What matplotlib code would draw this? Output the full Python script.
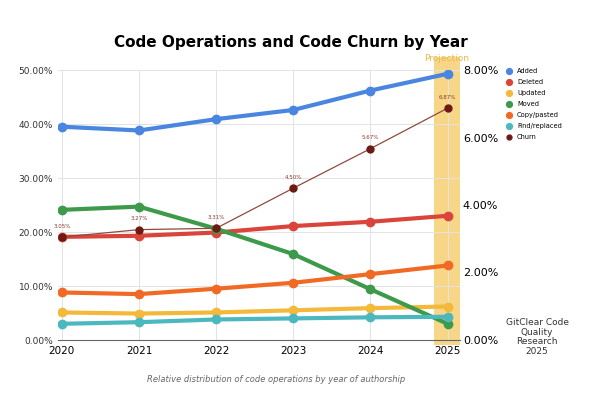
import matplotlib
matplotlib.use("Agg")
from matplotlib import pyplot as plt
from matplotlib.ticker import FuncFormatter

years = [2020, 2021, 2022, 2023, 2024, 2025]

added = [39.5, 38.8, 40.9, 42.6, 46.2, 49.3]
deleted = [19.1, 19.3, 19.9, 21.1, 21.9, 23.0]
updated = [5.1, 4.9, 5.1, 5.5, 5.9, 6.2]
moved = [24.1, 24.7, 20.6, 15.9, 9.4, 3.0]
copy_pasted = [8.8, 8.5, 9.5, 10.6, 12.2, 13.8]
find_replaced = [3.0, 3.3, 3.8, 4.0, 4.2, 4.3]
churn = [3.05, 3.27, 3.31, 4.50, 5.67, 6.87]
churn_labels = ["3.05%", "3.27%", "3.31%", "4.50%", "5.67%", "6.87%"]

series = [
    ("Added", added, "#4a86e0"),
    ("Deleted", deleted, "#d9453a"),
    ("Updated", updated, "#f4b93a"),
    ("Moved", moved, "#3c9a4a"),
    ("Copy/pasted", copy_pasted, "#f06a25"),
    ("Find/replaced", find_replaced, "#4bb8c0"),
]
churn_color = "#6e1a14"
churn_line = "#8f4a3e"
band_color = "#f6cf72"

fig = plt.figure(figsize=(6, 3.94), dpi=100)
ax = fig.add_axes([58 / 600, 1 - 340 / 394, 402 / 600, 270 / 394])
ax2 = ax.twinx()

# projection band
ax.axvspan(2024.82, 2025.16, ymin=-0.02, ymax=1.05, color=band_color,
           alpha=0.85, lw=0, clip_on=False, zorder=0)
ax.text(2024.99, 51.3, "Projection", color="#e8b94a", fontsize=6.5,
        ha="center", va="bottom")

handles = []
for name, vals, col in series:
    h, = ax.plot(years, vals, color=col, lw=3, marker="o", ms=6,
                 label=name, zorder=3, solid_capstyle="round")
    handles.append(h)

hc, = ax2.plot(years, churn, color=churn_line, lw=0.9, marker="o", ms=5,
               mfc=churn_color, mec=churn_color, label="Churn", zorder=4)
handles.append(hc)
for x, v, lab in zip(years, churn, churn_labels):
    ax2.annotate(lab, (x, v), xytext=(0, 6), textcoords="offset points",
                 ha="center", va="bottom", fontsize=4, color="#8a3a30")

ax.set_xlim(2019.95, 2025.16)
ax.set_ylim(0, 50)
ax2.set_ylim(0, 8)
ax.set_yticks([0, 10, 20, 30, 40, 50])
ax2.set_yticks([0, 2, 4, 6, 8])
ax.yaxis.set_major_formatter(FuncFormatter(lambda v, p: f"{v:.2f}%"))
ax2.yaxis.set_major_formatter(FuncFormatter(lambda v, p: f"{v:.2f}%"))
ax.set_xticks(years)
ax.tick_params(axis="x", length=0, labelsize=7.5, pad=4)
ax.tick_params(axis="y", length=0, labelsize=6.5, colors="#333333")
ax2.tick_params(axis="y", length=0, labelsize=8, pad=2)
ax.grid(True, color="#e3e3e3", lw=0.7)
ax.set_axisbelow(True)
for a in (ax, ax2):
    for s in ("top", "right", "left"):
        a.spines[s].set_visible(False)
ax2.spines["bottom"].set_visible(False)
ax.spines["bottom"].set_color("#666666")
ax.spines["bottom"].set_linewidth(0.8)

fig.text(0.485, 1 - 42 / 394, "Code Operations and Code Churn by Year",
         ha="center", va="center", fontsize=11, fontweight="bold")
fig.text(0.46, 1 - 379 / 394,
         "Relative distribution of code operations by year of authorship",
         ha="center", va="center", fontsize=6, style="italic", color="#666666")
fig.text(537 / 600, 1 - 337 / 394, "GitClear Code\nQuality\nResearch\n2025",
         ha="center", va="center", fontsize=6.5, color="#333333",
         linespacing=1.1)

fig.legend(handles=handles, loc="upper left", bbox_to_anchor=(503 / 600, 1 - 62 / 394),
           frameon=False, fontsize=4.8, handlelength=0, handletextpad=1.2,
           labelspacing=0.75, markerscale=0.7)

plt.savefig("out.png", dpi=100)
